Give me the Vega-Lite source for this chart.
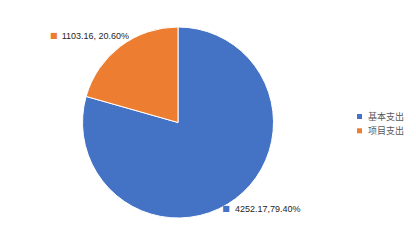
{
  "$schema": "https://vega.github.io/schema/vega-lite/v6.json",
  "width": 406,
  "height": 237,
  "autosize": {"type": "none"},
  "padding": {"left": 4, "top": 4, "right": 6, "bottom": 7},
  "background": "#ffffff",
  "config": {"view": {"stroke": "#d9d9d9", "strokeWidth": 1}, "font": "Liberation Sans"},
  "data": {
    "values": [
      {"category": "基本支出", "value": 4252.17, "label": "4252.17,79.40%"},
      {"category": "项目支出", "value": 1103.16, "label": "1103.16, 20.60%"}
    ]
  },
  "encoding": {
    "theta": {"field": "value", "type": "quantitative", "stack": true},
    "order": {"field": "value", "type": "quantitative", "sort": "descending"}
  },
  "layer": [
    {
      "mark": {"type": "arc", "outerRadius": 95.5, "stroke": "#ffffff", "strokeWidth": 1, "x": {"expr": "width*0.4286"}},
      "encoding": {
        "color": {
          "field": "category", "type": "nominal",
          "scale": {"domain": ["基本支出", "项目支出"], "range": ["#4472C4", "#ED7D31"]},
          "legend": {
            "orient": "none", "legendX": 351, "legendY": 108, "title": null,
            "symbolType": "square", "symbolSize": 25, "symbolStrokeWidth": 0,
            "labelFont": "Noto Sans CJK SC", "labelFontSize": 9, "labelColor": "#595959",
            "rowPadding": 4.3, "labelOffset": 4, "padding": 0
          }
        }
      }
    },
    {
      "mark": {"type": "text", "radius": 100, "x": {"expr": "width*0.4286"}, "dx": -64, "dy": -7, "text": "■", "fontSize": 8, "font": "DejaVu Sans", "baseline": "middle", "align": "center"},
      "encoding": {
        "color": {"field": "category", "type": "nominal", "legend": null},
        "opacity": {"condition": {"test": "datum.category == '项目支出'", "value": 1}, "value": 0}
      }
    },
    {
      "mark": {"type": "text", "radius": 100, "x": {"expr": "width*0.4286"}, "dx": -56, "dy": -7, "fontSize": 9, "baseline": "middle", "align": "left", "color": "#262626"},
      "encoding": {
        "text": {"field": "label"},
        "detail": {"field": "category"},
        "opacity": {"condition": {"test": "datum.category == '项目支出'", "value": 1}, "value": 0}
      }
    },
    {
      "mark": {"type": "text", "radius": 100, "x": {"expr": "width*0.4286"}, "dx": -12.3, "dy": 6.5, "text": "■", "fontSize": 8, "font": "DejaVu Sans", "baseline": "middle", "align": "center"},
      "encoding": {
        "color": {"field": "category", "type": "nominal", "legend": null},
        "opacity": {"condition": {"test": "datum.category == '基本支出'", "value": 1}, "value": 0}
      }
    },
    {
      "mark": {"type": "text", "radius": 100, "x": {"expr": "width*0.4286"}, "dx": -3.3, "dy": 6.5, "fontSize": 9, "baseline": "middle", "align": "left", "color": "#262626"},
      "encoding": {
        "text": {"field": "label"},
        "detail": {"field": "category"},
        "opacity": {"condition": {"test": "datum.category == '基本支出'", "value": 1}, "value": 0}
      }
    }
  ]
}
